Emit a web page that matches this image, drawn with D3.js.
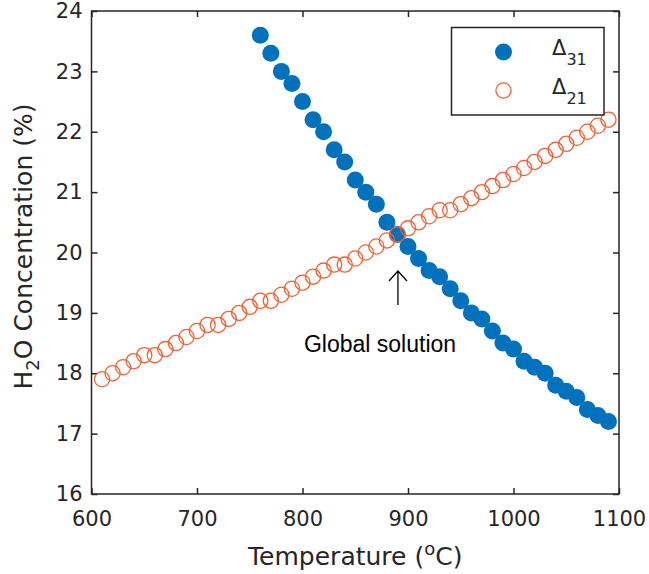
<!DOCTYPE html>
<html>
<head>
<meta charset="utf-8">
<script src="https://cdn.jsdelivr.net/npm/d3@7"></script>
<style>
  body { margin: 0; background: #fff; }
  svg { display: block; }
  .tick text { font-family: "DejaVu Sans", sans-serif; font-size: 21px; fill: #262626; }
</style>
</head>
<body>
<script>
const width = 649;
const height = 574;

// data
const xTicks = [600, 700, 800, 900, 1000, 1100];
const yTicks = [16, 17, 18, 19, 20, 21, 22, 23, 24];

const tempD31 = [760, 770, 780, 790, 800, 810, 820, 830, 840, 850, 860, 870,
  880, 890, 900, 910, 920, 930, 940, 950, 960, 970, 980, 990, 1000, 1010,
  1020, 1030, 1040, 1050, 1060, 1070, 1080, 1090];
const h2oD31 = [23.6, 23.3, 23.0, 22.8, 22.5, 22.2, 22.0, 21.7, 21.5, 21.2,
  21.0, 20.8, 20.5, 20.3, 20.1, 19.9, 19.7, 19.6, 19.4, 19.2, 19.0, 18.9,
  18.7, 18.5, 18.4, 18.2, 18.1, 18.0, 17.8, 17.7, 17.6, 17.4, 17.3, 17.2];

const tempD21 = [610, 620, 630, 640, 650, 660, 670, 680, 690, 700, 710, 720,
  730, 740, 750, 760, 770, 780, 790, 800, 810, 820, 830, 840, 850, 860, 870,
  880, 890, 900, 910, 920, 930, 940, 950, 960, 970, 980, 990, 1000, 1010,
  1020, 1030, 1040, 1050, 1060, 1070, 1080, 1090];
const h2oD21 = [17.9, 18.0, 18.1, 18.2, 18.3, 18.3, 18.4, 18.5, 18.6, 18.7,
  18.8, 18.8, 18.9, 19.0, 19.1, 19.2, 19.2, 19.3, 19.4, 19.5, 19.6, 19.7,
  19.8, 19.8, 19.9, 20.0, 20.1, 20.2, 20.3, 20.4, 20.5, 20.6, 20.7, 20.7,
  20.8, 20.9, 21.0, 21.1, 21.2, 21.3, 21.4, 21.5, 21.6, 21.7, 21.8, 21.9,
  22.0, 22.1, 22.2];

const solution = { temp: 890, label: "Global solution" };

const axisColor = "#262626";
const blue = "#0072BD";
const orange = "#EE6234";

let margin = { top: 11, right: 30, bottom: 80, left: 91.5 };

let svg = d3
  .select("body")
  .append("svg")
  .attr("width", width)
  .attr("height", height);

let xScale = d3
  .scaleLinear()
  .domain([600, 1100])
  .range([margin.left, width - margin.right]);

let yScale = d3
  .scaleLinear()
  .domain([16, 24])
  .range([height - margin.bottom, margin.top]);

let x0 = xScale.range()[0], x1 = xScale.range()[1];
let y0 = yScale.range()[1], y1 = yScale.range()[0];

// axes with inward ticks on all four sides
svg.append("g")
  .attr("transform", `translate(0, ${y1})`)
  .call(d3.axisBottom(xScale).tickValues(xTicks).tickSize(-6).tickPadding(17)
    .tickFormat(d3.format("d")))
  .call((g) => g.select(".domain").remove());

svg.append("g")
  .attr("transform", `translate(0, ${y0})`)
  .call(d3.axisTop(xScale).tickValues(xTicks).tickSize(-6).tickFormat(""))
  .call((g) => g.select(".domain").remove());

svg.append("g")
  .attr("transform", `translate(${x0}, 0)`)
  .call(d3.axisLeft(yScale).tickValues(yTicks).tickSize(-6).tickPadding(9))
  .call((g) => g.select(".domain").remove());

svg.append("g")
  .attr("transform", `translate(${x1}, 0)`)
  .call(d3.axisRight(yScale).tickValues(yTicks).tickSize(-6).tickFormat(""))
  .call((g) => g.select(".domain").remove());

svg.selectAll(".tick line").attr("stroke", axisColor).attr("stroke-width", 1.5);

svg.append("rect")
  .attr("x", x0)
  .attr("y", y0)
  .attr("width", x1 - x0)
  .attr("height", y1 - y0)
  .attr("fill", "none")
  .attr("stroke", axisColor)
  .attr("stroke-width", 1.5);

// series
let d31 = tempD31.map((t, i) => ({ t: t, v: h2oD31[i] }));
let d21 = tempD21.map((t, i) => ({ t: t, v: h2oD21[i] }));

svg.append("g")
  .selectAll("circle")
  .data(d31)
  .join("circle")
  .attr("cx", (d) => xScale(d.t))
  .attr("cy", (d) => yScale(d.v))
  .attr("r", 8.5)
  .attr("fill", blue);

svg.append("g")
  .selectAll("circle")
  .data(d21)
  .join("circle")
  .attr("cx", (d) => xScale(d.t))
  .attr("cy", (d) => yScale(d.v))
  .attr("r", 7.6)
  .attr("fill", "none")
  .attr("stroke", orange)
  .attr("stroke-width", 1.3);

// annotation
let ax = xScale(solution.temp) + 0.5;
svg.append("path")
  .attr("d", `M${ax},305 L${ax},271 M${ax - 9},281 L${ax},271 L${ax + 9},281`)
  .attr("fill", "none")
  .attr("stroke", "#000")
  .attr("stroke-width", 1.3);

svg.append("text")
  .attr("x", 380)
  .attr("y", 352)
  .attr("text-anchor", "middle")
  .attr("font-family", "Liberation Sans, Arial, sans-serif")
  .attr("font-size", 23)
  .attr("fill", "#000")
  .text(solution.label);

// legend
let legend = svg.append("g");
legend.append("rect")
  .attr("x", 451.5)
  .attr("y", 27.5)
  .attr("width", 152.5)
  .attr("height", 87.5)
  .attr("fill", "#fff")
  .attr("stroke", axisColor)
  .attr("stroke-width", 1.5);

let legendItems = [
  { sub: "31", y: 52, filled: true },
  { sub: "21", y: 90.5, filled: false },
];

legendItems.forEach((d) => {
  legend.append("circle")
    .attr("cx", 503.5)
    .attr("cy", d.y)
    .attr("r", d.filled ? 8.5 : 7.6)
    .attr("fill", d.filled ? blue : "none")
    .attr("stroke", d.filled ? "none" : orange)
    .attr("stroke-width", 1.3);
  let t = legend.append("text")
    .attr("x", 552)
    .attr("y", d.y + 3)
    .attr("font-family", "DejaVu Sans, sans-serif")
    .attr("font-size", 21)
    .attr("fill", axisColor);
  t.append("tspan").text("\u0394");
  t.append("tspan").attr("dy", 10).attr("font-size", 16).text(d.sub);
});

// axis titles
let xt = svg.append("text")
  .attr("x", (x0 + x1) / 2)
  .attr("y", 565)
  .attr("text-anchor", "middle")
  .attr("font-family", "DejaVu Sans, sans-serif")
  .attr("font-size", 25)
  .attr("fill", axisColor);
xt.append("tspan").text("Temperature (");
xt.append("tspan").attr("dy", -10).attr("font-size", 18).text("o");
xt.append("tspan").attr("dy", 10).text("C)");

let yt = svg.append("text")
  .attr("transform", `translate(32, ${(y0 + y1) / 2 - 6}) rotate(-90)`)
  .attr("text-anchor", "middle")
  .attr("font-family", "DejaVu Sans, sans-serif")
  .attr("font-size", 25)
  .attr("fill", axisColor);
yt.append("tspan").text("H");
yt.append("tspan").attr("dy", 7).attr("font-size", 18).text("2");
yt.append("tspan").attr("dy", -7).text("O Concentration (%)");
</script>
</body>
</html>
